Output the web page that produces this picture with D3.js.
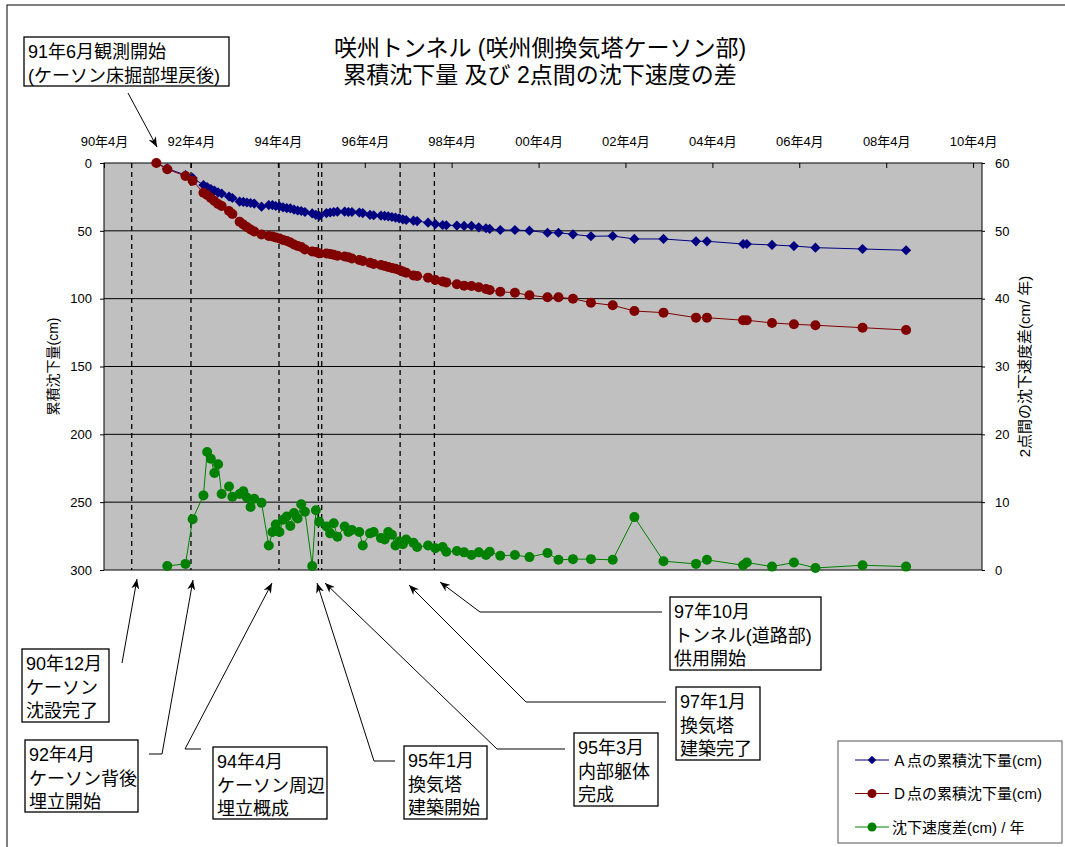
<!DOCTYPE html>
<html><head><meta charset="utf-8">
<script src="https://cdn.jsdelivr.net/npm/d3@7"></script>
<style>
body{margin:0;background:#fff}
svg text{font-family:"Liberation Sans","Noto Sans CJK JP",sans-serif;fill:#000}
</style></head><body>
<svg id="chart" width="1065" height="847"></svg>
<script>
// Measurement months (taken mid-month)
const months = ["1991-06","1991-09","1992-02","1992-04","1992-07","1992-08","1992-09","1992-10","1992-11","1992-12",
"1993-02","1993-03","1993-05","1993-06","1993-07","1993-08","1993-09","1993-11","1994-01","1994-02",
"1994-03","1994-04","1994-05","1994-06","1994-07","1994-08","1994-09","1994-10","1994-11","1995-01",
"1995-02","1995-03","1995-05","1995-06","1995-07","1995-08","1995-10","1995-11","1995-12","1996-02",
"1996-03","1996-05","1996-06","1996-08","1996-09","1996-10","1996-11","1996-12","1997-01","1997-02",
"1997-03","1997-05","1997-06","1997-09","1997-11","1998-01","1998-02","1998-05","1998-07","1998-09",
"1998-11","1999-01","1999-02","1999-05","1999-09","2000-01","2000-06","2000-09","2001-01","2001-06",
"2001-12","2002-06","2003-02","2003-11","2004-02","2004-12","2005-01","2005-08","2006-02","2006-08",
"2007-09","2008-09"];

// Cumulative settlement at point A (cm)
const settlementA = [0,4,9,11,16.2,17.7,19.2,20.3,21.7,22.5,
24.7,25.8,28.4,28.7,29.1,29.5,29.9,32.2,31,31,
31.7,32,32.7,33.2,33.5,34.3,35,35.4,36.1,37.2,
38.3,39,36.9,36.5,36.1,35.9,35.9,36.1,36.1,36.5,
36.9,38.3,38.5,38.8,39,39.3,39.8,40.2,40.8,41.6,
42,42.5,42.8,44,45,45.7,45.9,46.1,46.4,46.4,
47.4,48.1,48.6,49.4,49.4,49.9,51.4,51.4,52.6,54,
53.8,56,56,57.7,57.7,59.7,59.7,60.4,61.2,62.4,
63.4,64.3];

// Cumulative settlement at point D (cm)
const settlementD = [0,4.6,9.6,13,21.9,23.6,25.8,28,30.2,31.7,
35.4,37.6,43.3,45.3,47.2,49,50.5,52.7,53.8,54.2,
54.9,55.6,56.8,57.5,58.6,60.1,61.2,61.9,63.8,65.2,
65.6,66.6,66.7,67.1,67.6,68.3,68.9,69.5,70.4,71.5,
72.2,73.5,74.4,75.2,75.9,76.7,77.4,77.9,78.9,80,
80.9,82.9,83.3,84.5,86.2,87.3,88,89.4,90.4,90.7,
91.6,92.9,93.6,94.9,95.6,97.5,99,99,100,103,
104.9,109.1,110.3,114,114,115.9,115.9,117.9,118.9,119.6,
121.4,123.1];

// Difference in settlement rate between the two points (cm/year)
const rateDiff = [null,0.6,0.9,7.5,11,17.4,16.4,14.3,15.6,11.2,
12.3,10.8,11.2,11.6,10.7,9.3,10.5,9.9,3.6,5.6,
6.7,5.6,7.4,7.9,6.5,8.4,7.6,9.7,8.6,0.6,
8.8,7.1,6.4,5.4,6.9,4.9,6.4,5.6,5.9,5.6,
3.6,5.4,5.6,4.7,4.5,5.6,5.2,3.6,4.2,3.8,
4.5,4,3.4,3.6,3.2,3.4,2.7,2.8,2.6,2.2,
2.6,2.2,2.7,2.1,2.2,1.9,2.5,1.5,1.6,1.6,
1.5,7.8,1.3,0.9,1.5,0.7,1.1,0.5,1.1,0.3,
0.7,0.5];

// Date axis ticks
const dateTicks = ["1990-04-01","1992-04-01","1994-04-01","1996-04-01","1998-04-01","2000-04-01",
"2002-04-01","2004-04-01","2006-04-01","2008-04-01","2010-04-01"];
const dateTickLabels = ["90年4月","92年4月","94年4月","96年4月","98年4月","00年4月",
"02年4月","04年4月","06年4月","08年4月","10年4月"];
const leftTicks = [0,50,100,150,200,250,300];
const rightTicks = [0,10,20,30,40,50,60];

// Construction events (dashed markers)
const eventDates = ["1990-11-20","1992-04-01","1994-04-11","1995-03-08","1995-04-05","1997-01-23","1997-11-07"];

const seriesNames = ["Ａ点の累積沈下量(cm)","Ｄ点の累積沈下量(cm)","沈下速度差(cm) / 年"];
const colors = {A:"#000080", D:"#800000", S:"#008000"};

const svg = d3.select("#chart");
const P = {left:104, right:982, top:163, bottom:570};
const parseDay = d3.timeParse("%Y-%m-%d");
const x = d3.scaleTime().domain([parseDay("1990-04-01"), parseDay("2010-06-15")]).range([P.left, P.right]);
const yL = d3.scaleLinear().domain([0,300]).range([P.top, P.bottom]);
const yR = d3.scaleLinear().domain([0,60]).range([P.bottom, P.top]);

const rows = months.map((m,i)=>({date:parseDay(m+"-15"), a:settlementA[i], d:settlementD[i], s:rateDiff[i]}));

// outer frame
svg.append("rect").attr("x",7).attr("y",5).attr("width",1070).attr("height",860)
  .attr("fill","none").attr("stroke","#000").attr("stroke-width",1);

// title
const title = svg.append("text").attr("text-anchor","middle").attr("font-size",23);
title.append("tspan").attr("x",540).attr("y",56).text("咲州トンネル (咲州側換気塔ケーソン部)");
title.append("tspan").attr("x",540).attr("y",83).text("累積沈下量 及び 2点間の沈下速度の差");

// plot background
svg.append("rect").attr("x",P.left).attr("y",P.top).attr("width",P.right-P.left).attr("height",P.bottom-P.top)
  .attr("fill","#c0c0c0");

// gridlines
svg.append("g").selectAll("line").data(leftTicks.slice(1,-1)).join("line")
  .attr("x1",P.left).attr("x2",P.right).attr("y1",d=>yL(d)).attr("y2",d=>yL(d))
  .attr("stroke","#000").attr("stroke-width",1);

// event lines
svg.append("g").selectAll("line").data(eventDates).join("line")
  .attr("x1",d=>x(parseDay(d))).attr("x2",d=>x(parseDay(d)))
  .attr("y1",P.top).attr("y2",P.bottom)
  .attr("stroke","#000").attr("stroke-width",1.3).attr("stroke-dasharray","5,4");

// plot border
svg.append("rect").attr("x",P.left).attr("y",P.top).attr("width",P.right-P.left).attr("height",P.bottom-P.top)
  .attr("fill","none").attr("stroke","#000").attr("stroke-width",1);

// axes
const topAxis = d3.axisTop(x).tickValues(dateTicks.map(parseDay))
  .tickFormat((d,i)=>dateTickLabels[i]).tickSizeInner(-5).tickSizeOuter(0).tickPadding(17);
const gT = svg.append("g").attr("transform",`translate(0,${P.top})`).call(topAxis);
gT.select(".domain").remove();
gT.selectAll("text").attr("font-size",13).attr("font-family",null);
gT.selectAll("line").attr("stroke","#000");

const gL = svg.append("g").attr("transform",`translate(${P.left},0)`)
  .call(d3.axisLeft(yL).tickValues(leftTicks).tickSize(4).tickPadding(8));
gL.select(".domain").remove();
gL.selectAll("text").attr("font-size",13).attr("font-family",null);

const gR = svg.append("g").attr("transform",`translate(${P.right},0)`)
  .call(d3.axisRight(yR).tickValues(rightTicks).tickSize(3).tickPadding(10));
gR.select(".domain").remove();
gR.selectAll("text").attr("font-size",13).attr("font-family",null);

svg.append("text").attr("transform",`translate(58,${(P.top+P.bottom)/2}) rotate(-90)`)
  .attr("text-anchor","middle").attr("font-size",14).text("累積沈下量(cm)");
svg.append("text").attr("transform",`translate(1030,${(P.top+P.bottom)/2}) rotate(-90)`)
  .attr("text-anchor","middle").attr("font-size",15).text("2点間の沈下速度差(cm/ 年)");

// series
const diamond = d3.symbol().type(d3.symbolSquare).size(52);
const lineA = d3.line().x(d=>x(d.date)).y(d=>yL(d.a));
const lineD = d3.line().x(d=>x(d.date)).y(d=>yL(d.d));
const rowsS = rows.filter(d=>d.s!=null);
const lineS = d3.line().x(d=>x(d.date)).y(d=>yR(d.s));

svg.append("path").datum(rows).attr("d",lineA).attr("fill","none").attr("stroke",colors.A).attr("stroke-width",1);
svg.append("g").selectAll("path").data(rows).join("path")
  .attr("transform",d=>`translate(${x(d.date)},${yL(d.a)}) rotate(45)`).attr("d",diamond).attr("fill",colors.A);

svg.append("path").datum(rows).attr("d",lineD).attr("fill","none").attr("stroke",colors.D).attr("stroke-width",1);
svg.append("g").selectAll("circle").data(rows).join("circle")
  .attr("cx",d=>x(d.date)).attr("cy",d=>yL(d.d)).attr("r",5).attr("fill",colors.D);

svg.append("path").datum(rowsS).attr("d",lineS).attr("fill","none").attr("stroke",colors.S).attr("stroke-width",1);
svg.append("g").selectAll("circle").data(rowsS).join("circle")
  .attr("cx",d=>x(d.date)).attr("cy",d=>yR(d.s)).attr("r",5).attr("fill",colors.S);

// arrowhead
svg.append("defs").append("marker").attr("id","arrow").attr("viewBox","0 0 10 8")
  .attr("refX",10).attr("refY",4).attr("markerWidth",10).attr("markerHeight",8)
  .attr("markerUnits","userSpaceOnUse").attr("orient","auto")
  .append("path").attr("d","M0,0 L10,4 L0,8 L3,4 Z").attr("fill","#000");

// annotations
const notes = [
  {box:[24,37,205,49], lines:["91年6月観測開始","(ケーソン床掘部埋戻後)"], leader:[[128,93],[157,147]]},
  {box:[22,649,87,73], lines:["90年12月","ケーソン","沈設完了"], leader:[[122,663],[137,579]]},
  {box:[25,740,113,72], lines:["92年4月","ケーソン背後","埋立開始"], leader:[[149,754],[162,754],[193,580]]},
  {box:[213,747,114,72], lines:["94年4月","ケーソン周辺","埋立概成"], leader:[[201,749],[185,749],[272,583]]},
  {box:[404,746,83,73], lines:["95年1月","換気塔","建築開始"], leader:[[395,761],[374,761],[317,583]]},
  {box:[574,733,84,73], lines:["95年3月","内部躯体","完成"], leader:[[565,749],[497,749],[325,583]]},
  {box:[676,687,84,73], lines:["97年1月","換気塔","建築完了"], leader:[[666,702],[526,702],[409,585]]},
  {box:[670,597,151,73], lines:["97年10月","トンネル(道路部)","供用開始"], leader:[[662,612],[480,612],[440,582]]}
];
const gN = svg.append("g");
notes.forEach(n=>{
  gN.append("path").attr("d",d3.line()(n.leader)).attr("fill","none")
    .attr("stroke","#000").attr("stroke-width",1).attr("marker-end","url(#arrow)");
  const [bx,by,bw,bh] = n.box;
  gN.append("rect").attr("x",bx).attr("y",by).attr("width",bw).attr("height",bh)
    .attr("fill","#fff").attr("stroke","#000").attr("stroke-width",1.3);
  const t = gN.append("text").attr("font-size",18);
  n.lines.forEach((s,i)=>t.append("tspan").attr("x",bx+4).attr("y",by+21+i*23.5).text(s));
});

// legend
const lg = svg.append("g");
lg.append("rect").attr("x",838).attr("y",741).attr("width",224).attr("height",102)
  .attr("fill","#fff").attr("stroke","#555").attr("stroke-width",1);
const keys = ["A","D","S"];
keys.forEach((k,i)=>{
  const yy = 760 + i*33.5;
  lg.append("line").attr("x1",855).attr("x2",889).attr("y1",yy).attr("y2",yy).attr("stroke",colors[k]).attr("stroke-width",1);
  if(k==="A") lg.append("path").attr("transform",`translate(872,${yy}) rotate(45)`).attr("d",d3.symbol().type(d3.symbolSquare).size(36)).attr("fill",colors[k]);
  else lg.append("circle").attr("cx",872).attr("cy",yy).attr("r",4.5).attr("fill",colors[k]);
  lg.append("text").attr("x",892).attr("y",yy+5.5).attr("font-size",15).text(seriesNames[i]);
});
</script>
</body></html>
